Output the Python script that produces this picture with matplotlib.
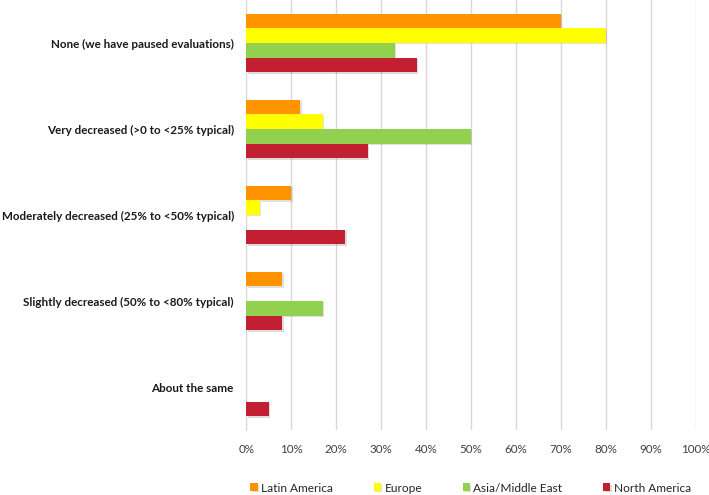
import numpy as np
import matplotlib
matplotlib.use("Agg")
import matplotlib.pyplot as plt
import matplotlib.patheffects as pe

plt.rcParams['font.family'] = ['Lato', 'DejaVu Sans']

categories = ["None (we have paused evaluations)",
              "Very decreased (>0 to <25% typical)",
              "Moderately decreased (25% to <50% typical)",
              "Slightly decreased (50% to <80% typical)",
              "About the same"]
series_names = ["Latin America", "Europe", "Asia/Middle East", "North America"]
latin_america = [70, 12, 10, 8, 0]
europe = [80, 17, 3, 0, 0]
asia_middle_east = [33, 50, 0, 17, 0]
north_america = [38, 27, 22, 8, 5]
colors = ["#FF9300", "#FFFF00", "#92D050", "#C21F32"]

values = [latin_america, europe, asia_middle_east, north_america]

fig = plt.figure(figsize=(7.09, 4.95), dpi=100)
ax = fig.add_axes([0.3474, 0.1313, 0.6339, 0.8687])

y = np.arange(len(categories))
h = 0.171
shadow = [pe.SimplePatchShadow(offset=(1, -1), alpha=0.15), pe.Normal()]
for i, (name, vals, c) in enumerate(zip(series_names, values, colors)):
    bars = ax.barh(y + (i - 1.5) * h, vals, height=h, color=c, label=name, zorder=3)
    for b in bars:
        if b.get_width() > 0:
            b.set_path_effects(shadow)

ax.set_xlim(0, 100)
ax.set_ylim(len(categories) - 0.5, -0.5)
ax.set_xticks(np.arange(0, 101, 10))
ax.set_xticklabels(["%d%%" % v for v in range(0, 101, 10)], fontsize=8.4, color="#404040")
ax.set_yticks(y)
ax.set_yticklabels(categories, fontsize=8.4, fontweight="bold", color="#1a1a1a")
ax.tick_params(axis="both", length=0)
ax.tick_params(axis="y", pad=9)
ax.tick_params(axis="x", pad=10)
ax.grid(axis="x", color="#d9d9d9", linewidth=1, zorder=0)
for s in ["top", "right", "bottom"]:
    ax.spines[s].set_visible(False)
ax.spines["left"].set_color("#d9d9d9")

fig.legend(loc="center", bbox_to_anchor=(0.664, 7 / 495), ncol=4, frameon=False,
           fontsize=8.6, handlelength=0.6, handleheight=0.6, handletextpad=0.3,
           columnspacing=3.4, labelcolor="#262626")

fig.savefig("out.png", dpi=100)
